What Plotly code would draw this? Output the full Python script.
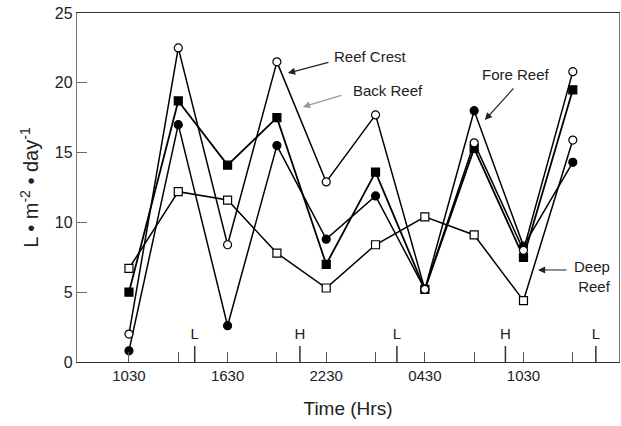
import plotly.graph_objects as go

# hours after 1030 on day 1
hours = [0, 3, 6, 9, 12, 15, 18, 21, 24, 27]
reef_crest = [2.0, 22.5, 8.4, 21.5, 12.9, 17.7, 5.2, 15.7, 8.0, 20.8]
back_reef = [5.0, 18.7, 14.1, 17.5, 7.0, 13.6, 5.2, 15.3, 7.5, 19.5]
fore_reef = [0.8, 17.0, 2.6, 15.5, 8.8, 11.9, 5.2, 18.0, 8.3, 14.3]
deep_reef = [6.7, 12.2, 11.6, 7.8, 5.3, 8.4, 10.4, 9.1, 4.4, 15.9]

tick_vals = [0, 6, 12, 18, 24]
tick_text = ["1030", "1630", "2230", "0430", "1030"]

tide_hours = [4.0, 10.4, 16.3, 22.9, 28.4]
tide_labels = ["L", "H", "L", "H", "L"]
tide_mark_height = 1.15
tide_label_y = 1.9

FONT = "Liberation Sans, Arial, sans-serif"

fig = go.Figure()

def add_series(name, ys, symbol, fill, width=1.5):
    fig.add_trace(go.Scatter(
        x=hours, y=ys, mode="lines+markers", name=name,
        line=dict(color="black", width=width),
        marker=dict(symbol=symbol, size=8, color=fill,
                    line=dict(color="black", width=1.2)),
        showlegend=False,
    ))

add_series("Deep Reef", deep_reef, ["square"] * 9 + ["circle"], "white")
add_series("Fore Reef", fore_reef, "circle", "black")
add_series("Back Reef", back_reef, "square", "black", 1.8)
add_series("Reef Crest", reef_crest, "circle", "white")

# tide marks
tx, ty = [], []
for h in tide_hours:
    tx += [h, h, None]
    ty += [0, tide_mark_height, None]
fig.add_trace(go.Scatter(x=tx, y=ty, mode="lines",
                         line=dict(color="#333", width=1.5),
                         showlegend=False, hoverinfo="skip"))
fig.add_trace(go.Scatter(x=tide_hours, y=[tide_label_y] * len(tide_hours),
                         mode="text", text=tide_labels,
                         textfont=dict(family=FONT, size=15, color="#222"),
                         showlegend=False, hoverinfo="skip"))

ann_font = dict(family=FONT, size=15, color="#222")

def arrow(x, y, ax, ay, color="#222"):
    fig.add_annotation(x=x, y=y, xref="x", yref="y", ax=ax, ay=ay, text="",
                       showarrow=True, arrowhead=2, arrowsize=1.2,
                       arrowwidth=1.2, arrowcolor=color)

def label(x, y, text, align="center", xanchor="center"):
    fig.add_annotation(x=x, y=y, xref="x", yref="y", text=text,
                       showarrow=False, font=ann_font, align=align,
                       xanchor=xanchor)

arrow(9.67, 20.7, 42, -11)
label(14.72, 21.92, "Reef Crest")
arrow(10.58, 18.27, 40, -12, "#999")
label(15.75, 19.48, "Back Reef")
arrow(21.65, 17.34, 30, -33)
label(23.54, 20.56, "Fore Reef")
arrow(24.88, 6.59, 30, 0)
label(29.45, 6.1, "Deep<br>Reef", align="right", xanchor="right")

fig.update_layout(
    width=621, height=426,
    margin=dict(l=77, r=2, t=13, b=64),
    paper_bgcolor="white", plot_bgcolor="white",
    font=dict(family=FONT, color="#222"),
)
fig.update_xaxes(
    range=[-3.16, 29.81], tickvals=tick_vals, ticktext=tick_text,
    ticks="inside", ticklen=10, tickcolor="#555", tickwidth=1,
    minor=dict(tickvals=[3, 9, 15, 21, 27], ticks="inside", ticklen=10,
               tickcolor="#555", tickwidth=1),
    showline=True, linecolor="#333", linewidth=1.3, mirror=True,
    showgrid=False, zeroline=False,
    tickfont=dict(family=FONT, size=15, color="#222"),
    title=dict(text="Time (Hrs)", font=dict(family=FONT, size=19, color="#222"),
               standoff=18),
)
fig.update_yaxes(
    range=[0, 25], tickvals=[0, 5, 10, 15, 20, 25],
    ticks="inside", ticklen=10, tickcolor="#666", tickwidth=1,
    showline=True, linecolor="#777", linewidth=1.3, mirror=True,
    showgrid=False, zeroline=False,
    tickfont=dict(family=FONT, size=16, color="#222"),
    title=dict(text="L • m<sup>-2</sup> • day<sup>-1</sup>",
               font=dict(family=FONT, size=20, color="#222"), standoff=10),
)

fig.write_html("out.html", config={"displayModeBar": False},
               post_script="document.body.style.margin='0';document.body.style.padding='0';")
